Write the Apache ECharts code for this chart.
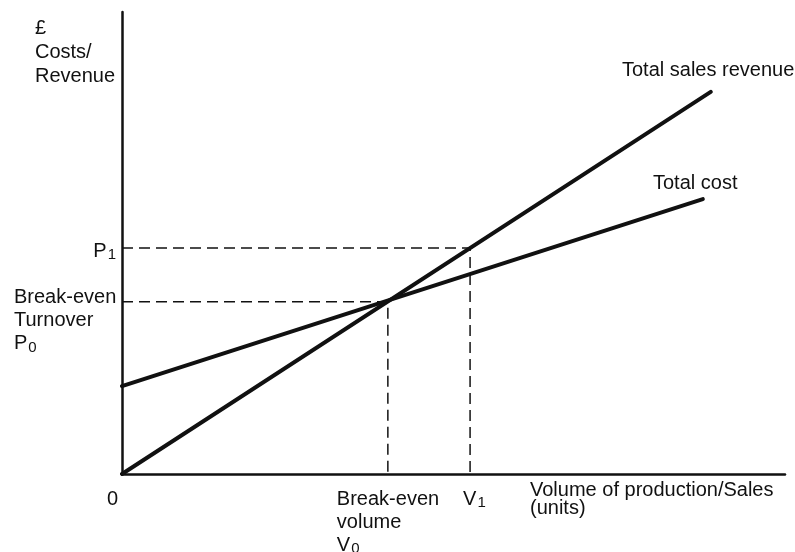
<!DOCTYPE html>
<html>
<head>
  <meta charset="UTF-8">
  <title>Break-even chart</title>
  <script src="https://cdn.jsdelivr.net/npm/echarts@6/dist/echarts.min.js"></script>
  <style>
    html, body { margin: 0; padding: 0; background: #fff; }
    #chart { width: 795px; height: 552px; }
  </style>
</head>
<body>
<div id="chart"></div>
<script>
  // line end points (volume, £)
  var revenueLine = [[0, 0], [88.8, 82.7]];
  var costLine = [[0, 19], [87.6, 59.5]];
  // break-even point and the higher volume V1
  var breakEven = [40.1, 37.3];
  var pointV1 = [52.5, 48.9];

  var FONT = 'Liberation Sans';
  var INK = '#111';

  var chart = echarts.init(document.getElementById('chart'));

  function dashed(p) {
    return {
      type: 'line',
      data: [[0, p[1]], [p[0], p[1]], [p[0], 0]],
      symbol: 'none',
      silent: true,
      lineStyle: { color: INK, width: 1.5, type: [11, 6] },
      z: 1
    };
  }

  function solid(d) {
    return {
      type: 'line',
      data: d,
      symbol: 'none',
      silent: true,
      lineStyle: { color: INK, width: 4, cap: 'round' },
      z: 3
    };
  }

  var hiddenAxis = {
    type: 'value',
    min: 0,
    max: 100,
    axisLine: { show: true, lineStyle: { color: INK, width: 2.5 } },
    axisTick: { show: false },
    axisLabel: { show: false },
    splitLine: { show: false }
  };

  chart.setOption({
    animation: false,
    grid: { left: 122, right: 10, top: 12, bottom: 78 },
    xAxis: hiddenAxis,
    yAxis: hiddenAxis,
    series: [
      dashed(pointV1),
      dashed(breakEven),
      solid(revenueLine),
      solid(costLine)
    ]
  });

  // labels, placed from the data where they belong to a value
  var rich = {
    sub: { fontFamily: FONT, fontSize: 15, padding: [8, 0, 0, 1] }
  };

  function txt(x, y, s, extra) {
    var st = {
      text: s,
      x: x,
      y: y,
      fill: INK,
      font: '20px "' + FONT + '"',
      align: 'left',
      verticalAlign: 'middle',
      lineHeight: 23,
      rich: rich
    };
    for (var k in extra) st[k] = extra[k];
    return { type: 'text', style: st };
  }

  var px = function (p) { return chart.convertToPixel({ gridIndex: 0 }, p); };
  var origin = px([0, 0]);
  var p1 = px(pointV1);
  var p0 = px(breakEven);
  var baseY = origin[1] + 25;

  chart.setOption({
    graphic: [
      txt(35, 52, '£\nCosts/\nRevenue', { lineHeight: 24 }),
      txt(origin[0] - 6, p1[1] + 3, 'P{sub|1}', { align: 'right' }),
      txt(14, p0[1] + 19, 'Break-even\nTurnover\nP{sub|0}'),
      txt(origin[0] - 15, baseY, '0'),
      txt(p0[0] - 51, baseY + 23, 'Break-even\nvolume\nV{sub|0}'),
      txt(p1[0] - 7, baseY, 'V{sub|1}'),
      txt(530, baseY, 'Volume of production/Sales\n(units)', { lineHeight: 18 }),
      txt(622, 70, 'Total sales revenue'),
      txt(653, 183, 'Total cost')
    ]
  });
</script>
</body>
</html>
